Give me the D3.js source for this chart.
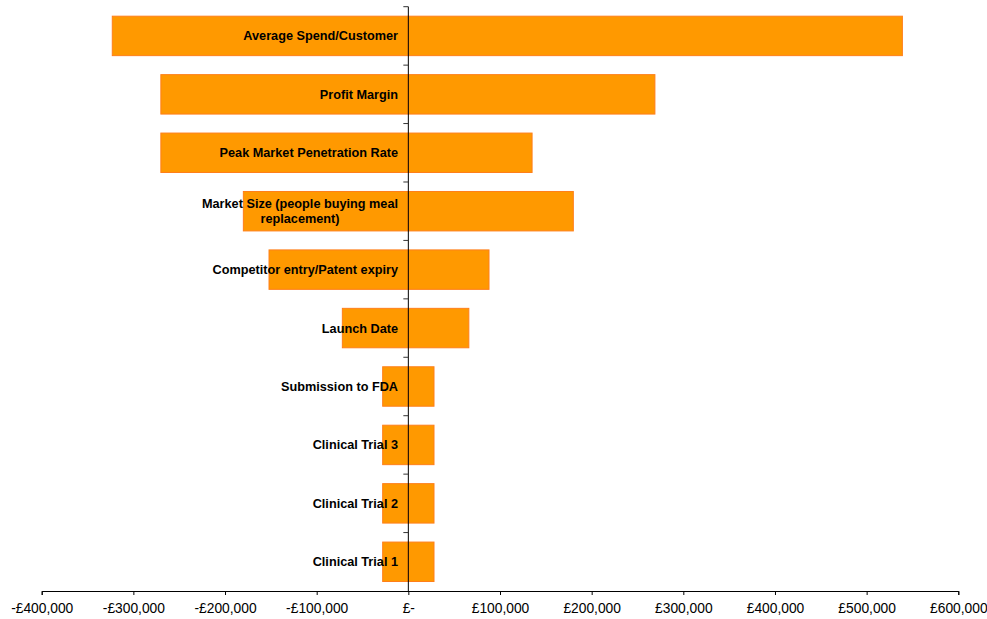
<!DOCTYPE html>
<html>
<head>
<meta charset="utf-8">
<script src="https://cdn.jsdelivr.net/npm/d3@7"></script>
<style>
  html, body { margin: 0; padding: 0; background: #fff; }
  svg text { font-family: "Liberation Sans", Arial, sans-serif; }
</style>
</head>
<body>
<svg id="chart" width="987" height="619"></svg>
<script>
const categories = [
  "Average Spend/Customer",
  "Profit Margin",
  "Peak Market Penetration Rate",
  "Market Size (people buying meal|replacement)",
  "Competitor entry/Patent expiry",
  "Launch Date",
  "Submission to FDA",
  "Clinical Trial 3",
  "Clinical Trial 2",
  "Clinical Trial 1"
];
const lowValues  = [-323000, -270000, -270000, -180000, -152000, -72000, -28000, -28000, -28000, -28000];
const highValues = [ 539000,  269000,  135000,  180000,   88000,  66000,  28000,  28000,  28000,  28000];
const tickValues = [-400000, -300000, -200000, -100000, 0, 100000, 200000, 300000, 400000, 500000, 600000];

const fmt = v => {
  if (v === 0) return "£-";
  const s = d3.format(",")(Math.abs(v));
  return (v < 0 ? "-£" : "£") + s;
};

const svg = d3.select("#chart");
const x = d3.scaleLinear().domain([-400000, 600000]).range([41.7, 958.3]);
const y = d3.scaleBand().domain(categories).range([6.7, 591]).paddingInner(0.325).paddingOuter(0.1625);

const rows = categories.map((c, i) => ({ c, lo: lowValues[i], hi: highValues[i] }));

// bars: negative part and positive part
const g = svg.append("g");
rows.forEach(r => {
  [[r.lo, 0], [0, r.hi]].forEach(([a, b]) => {
    g.append("rect")
      .attr("x", x(Math.min(a, b)))
      .attr("y", y(r.c))
      .attr("width", Math.abs(x(b) - x(a)))
      .attr("height", y.bandwidth())
      .attr("fill", "#FF9900")
      .attr("stroke", "#FF7F1A")
      .attr("stroke-width", 1);
  });
});

// x axis
const xAxis = d3.axisBottom(x).tickValues(tickValues).tickFormat(fmt).tickSizeOuter(0).tickSize(4);
const ax = svg.append("g").attr("transform", "translate(0,591)").call(xAxis);
ax.select(".domain").attr("stroke", "#000");
ax.selectAll(".tick line").attr("stroke", "#000");
ax.selectAll(".tick text").attr("font-size", "13.8px").attr("font-family", "'Liberation Sans', Arial, sans-serif").attr("fill", "#000").attr("y", 8).attr("dy", "1em");

// vertical axis at zero with ticks at band boundaries
const step = y.step();
const yStart = 6.7;
svg.append("line").attr("x1", x(0)).attr("x2", x(0)).attr("y1", yStart).attr("y2", 591).attr("stroke", "#000");
d3.range(categories.length).forEach(i => {
  const yy = yStart + i * step;
  svg.append("line").attr("x1", x(0) - 5).attr("x2", x(0)).attr("y1", yy).attr("y2", yy).attr("stroke", "#333");
});

// category labels
const labelRight = 398;
rows.forEach(r => {
  const lines = r.c.split("|");
  const t = svg.append("text")
    .attr("font-size", "12.7px").attr("font-weight", "bold").attr("fill", "#000");
  const cy = y(r.c) + y.bandwidth() / 2;
  const lh = 15;
  const y0 = cy - (lines.length - 1) * lh / 2;
  const spans = lines.map((ln, k) => t.append("tspan").attr("y", y0 + k * lh).attr("dy", "0.35em").text(ln));
  let maxW = 0;
  spans.forEach(s => { maxW = Math.max(maxW, s.node().getComputedTextLength()); });
  const cx = labelRight - maxW / 2;
  spans.forEach(s => s.attr("x", cx).attr("text-anchor", "middle"));
});
</script>
</body>
</html>
